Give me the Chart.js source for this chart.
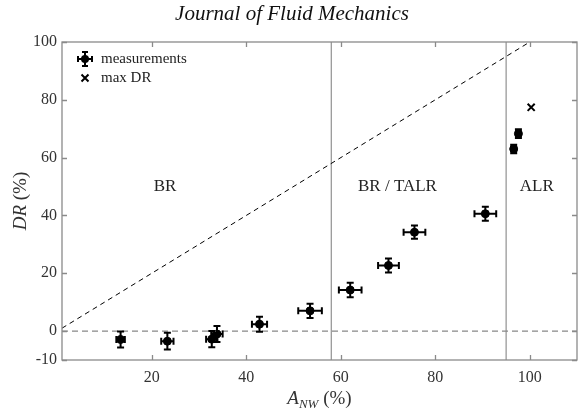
<!DOCTYPE html>
<html>
<head>
<meta charset="utf-8">
<script src="https://cdn.jsdelivr.net/npm/chart.js@4.4.1/dist/chart.umd.min.js"></script>
<style>
  html, body { margin: 0; padding: 0; background: #fff; }
  #wrap { width: 584px; height: 415px; position: relative; }
</style>
</head>
<body>
<div id="wrap"><canvas id="chart"></canvas></div>
<script>
// measurements (A_NW %, DR %) with error bars
const measX = [13.4, 23.3, 32.7, 33.8, 42.8, 53.5, 62.0, 70.1, 75.6, 90.6, 96.6, 97.6];
const measY = [-2.9, -3.5, -2.8, -1.0, 2.4, 7.0, 14.2, 22.7, 34.2, 40.6, 63.0, 68.3];
const measXErr = [0.9, 1.3, 1.2, 1.2, 1.6, 2.5, 2.4, 2.2, 2.3, 2.3, 0.5, 0.5];
const measYErr = [2.8, 2.9, 2.8, 2.8, 2.6, 2.5, 2.5, 2.4, 2.3, 2.4, 1.5, 1.5];

const maxDrX = [100.3];
const maxDrY = [77.4];

// regime boundaries and labels
const boundaries = [58, 95];
const regimeNames = ["BR", "BR / TALR", "ALR"];
const regimeLabelX = [22.8, 72.0, 101.5];
const regimeLabelY = 50;

// reference line DR = A_NW
const diagX = [1, 100];

const xTicks = [20, 40, 60, 80, 100];
const yTicks = [-10, 0, 20, 40, 60, 80, 100];
const xRange = [1, 110];
const yRange = [-10, 100];

const SERIF = "'Liberation Serif', 'DejaVu Serif', serif";
const AXIS_GREY = "#8a8a8a";

const errorBars = {
    id: "errorBars",
    afterDatasetsDraw(chart) {
        const { ctx, scales: { x, y } } = chart;
        ctx.save();
        ctx.strokeStyle = "#000";
        ctx.lineWidth = 2;
        const cap = 3.5;
        measX.forEach((mx, i) => {
            const px = x.getPixelForValue(mx);
            const py = y.getPixelForValue(measY[i]);
            const x0 = x.getPixelForValue(mx - measXErr[i]);
            const x1 = x.getPixelForValue(mx + measXErr[i]);
            const y0 = y.getPixelForValue(measY[i] - measYErr[i]);
            const y1 = y.getPixelForValue(measY[i] + measYErr[i]);
            ctx.beginPath();
            ctx.moveTo(x0, py); ctx.lineTo(x1, py);
            ctx.moveTo(x0, py - cap); ctx.lineTo(x0, py + cap);
            ctx.moveTo(x1, py - cap); ctx.lineTo(x1, py + cap);
            ctx.moveTo(px, y0); ctx.lineTo(px, y1);
            ctx.moveTo(px - cap, y0); ctx.lineTo(px + cap, y0);
            ctx.moveTo(px - cap, y1); ctx.lineTo(px + cap, y1);
            ctx.stroke();
        });
        ctx.restore();
    },
};

const frameAndText = {
    id: "frameAndText",
    afterDraw(chart) {
        const { ctx, chartArea: a, scales: { x, y } } = chart;
        ctx.save();

        // frame with inward ticks
        ctx.strokeStyle = AXIS_GREY;
        ctx.lineWidth = 1.3;
        ctx.strokeRect(a.left, a.top, a.right - a.left, a.bottom - a.top);
        ctx.beginPath();
        const tl = 5;
        xTicks.forEach(v => {
            const px = Math.round(x.getPixelForValue(v)) + 0.5;
            ctx.moveTo(px, a.bottom); ctx.lineTo(px, a.bottom - tl);
            ctx.moveTo(px, a.top); ctx.lineTo(px, a.top + tl);
        });
        yTicks.forEach(v => {
            const py = Math.round(y.getPixelForValue(v)) + 0.5;
            ctx.moveTo(a.left, py); ctx.lineTo(a.left + tl, py);
            ctx.moveTo(a.right, py); ctx.lineTo(a.right - tl, py);
        });
        ctx.stroke();

        // regime labels
        ctx.fillStyle = "#222";
        ctx.font = "17px " + SERIF;
        ctx.textAlign = "center";
        ctx.textBaseline = "middle";
        regimeNames.forEach((n, i) => {
            ctx.fillText(n, x.getPixelForValue(regimeLabelX[i]), y.getPixelForValue(regimeLabelY));
        });

        // legend
        const lx = a.left + 23, ly1 = a.top + 17, ly2 = a.top + 36;
        ctx.strokeStyle = "#000";
        ctx.fillStyle = "#000";
        ctx.lineWidth = 2;
        ctx.beginPath();
        ctx.moveTo(lx - 7, ly1); ctx.lineTo(lx + 7, ly1);
        ctx.moveTo(lx - 7, ly1 - 3); ctx.lineTo(lx - 7, ly1 + 3);
        ctx.moveTo(lx + 7, ly1 - 3); ctx.lineTo(lx + 7, ly1 + 3);
        ctx.moveTo(lx, ly1 - 7); ctx.lineTo(lx, ly1 + 7);
        ctx.moveTo(lx - 3, ly1 - 7); ctx.lineTo(lx + 3, ly1 - 7);
        ctx.moveTo(lx - 3, ly1 + 7); ctx.lineTo(lx + 3, ly1 + 7);
        ctx.stroke();
        ctx.beginPath();
        ctx.arc(lx, ly1, 4, 0, Math.PI * 2);
        ctx.fill();
        ctx.beginPath();
        ctx.moveTo(lx - 3.5, ly2 - 3.5); ctx.lineTo(lx + 3.5, ly2 + 3.5);
        ctx.moveTo(lx - 3.5, ly2 + 3.5); ctx.lineTo(lx + 3.5, ly2 - 3.5);
        ctx.stroke();
        ctx.fillStyle = "#222";
        ctx.font = "15px " + SERIF;
        ctx.textAlign = "left";
        ctx.fillText("measurements", lx + 16, ly1);
        ctx.fillText("max DR", lx + 16, ly2);

        // title
        ctx.font = "italic 21px " + SERIF;
        ctx.textAlign = "center";
        ctx.fillStyle = "#111";
        ctx.fillText("Journal of Fluid Mechanics", chart.width / 2, 14);

        // x axis title: A_NW (%)
        ctx.fillStyle = "#333";
        const cx = (a.left + a.right) / 2;
        const by = 398;
        ctx.textBaseline = "alphabetic";
        ctx.font = "italic 19px " + SERIF;
        const wA = ctx.measureText("A").width;
        ctx.font = "italic 13px " + SERIF;
        const wNW = ctx.measureText("NW").width;
        ctx.font = "19px " + SERIF;
        const wP = ctx.measureText(" (%)").width;
        let sx = cx - (wA + wNW + wP) / 2;
        ctx.textAlign = "left";
        ctx.font = "italic 19px " + SERIF;
        ctx.fillText("A", sx, by + 6); sx += wA;
        ctx.font = "italic 13px " + SERIF;
        ctx.fillText("NW", sx, by + 10); sx += wNW;
        ctx.font = "19px " + SERIF;
        ctx.fillText(" (%)", sx, by + 6);

        // y axis title: DR (%)
        ctx.translate(26, (a.top + a.bottom) / 2);
        ctx.rotate(-Math.PI / 2);
        ctx.font = "italic 19px " + SERIF;
        const wDR = ctx.measureText("DR").width;
        ctx.font = "19px " + SERIF;
        const wP2 = ctx.measureText(" (%)").width;
        let sy = -(wDR + wP2) / 2;
        ctx.font = "italic 19px " + SERIF;
        ctx.fillText("DR", sy, 0); sy += wDR;
        ctx.font = "19px " + SERIF;
        ctx.fillText(" (%)", sy, 0);

        ctx.restore();
    },
};

const lineStyle = { showLine: true, pointRadius: 0, pointHoverRadius: 0, fill: false };

const datasets = [
    {
        label: "DR = A_NW",
        data: diagX.map(v => ({ x: v, y: v })),
        borderColor: "#000", borderWidth: 1, borderDash: [5, 4], ...lineStyle,
    },
    {
        label: "zero",
        data: xRange.map(v => ({ x: v, y: 0 })),
        borderColor: "#888", borderWidth: 1.2, borderDash: [6, 4], ...lineStyle,
    },
    ...boundaries.map(b => ({
        label: "boundary " + b,
        data: yRange.map(v => ({ x: b, y: v })),
        borderColor: "#999", borderWidth: 1.3, ...lineStyle,
    })),
    {
        label: "measurements",
        data: measX.map((v, i) => ({ x: v, y: measY[i] })),
        backgroundColor: "#000", borderColor: "#000",
        pointRadius: 4, pointHoverRadius: 4,
    },
    {
        label: "max DR",
        data: maxDrX.map((v, i) => ({ x: v, y: maxDrY[i] })),
        pointStyle: "crossRot", borderColor: "#000", borderWidth: 2,
        pointRadius: 5, pointHoverRadius: 5,
    },
];

new Chart(document.getElementById("chart"), {
    type: "scatter",
    data: { datasets },
    options: {
        responsive: true,
        maintainAspectRatio: false,
        animation: false,
        events: [],
        layout: { padding: { top: 42, right: 7, left: 0, bottom: 0 } },
        plugins: { legend: { display: false }, tooltip: { enabled: false } },
        scales: {
            x: {
                type: "linear",
                min: xRange[0], max: xRange[1],
                grid: { display: false, drawTicks: false },
                border: { display: false },
                afterBuildTicks: s => { s.ticks = xTicks.map(v => ({ value: v })); },
                afterFit: s => { s.height = 55; },
                ticks: { padding: 8, color: "#333", font: { family: SERIF, size: 16 } },
            },
            y: {
                type: "linear",
                min: yRange[0], max: yRange[1],
                grid: { display: false, drawTicks: false },
                border: { display: false },
                afterBuildTicks: s => { s.ticks = yTicks.map(v => ({ value: v })); },
                afterFit: s => { s.width = 62; },
                ticks: { padding: 5, color: "#333", font: { family: SERIF, size: 16 } },
            },
        },
    },
    plugins: [errorBars, frameAndText],
});
</script>
</body>
</html>
